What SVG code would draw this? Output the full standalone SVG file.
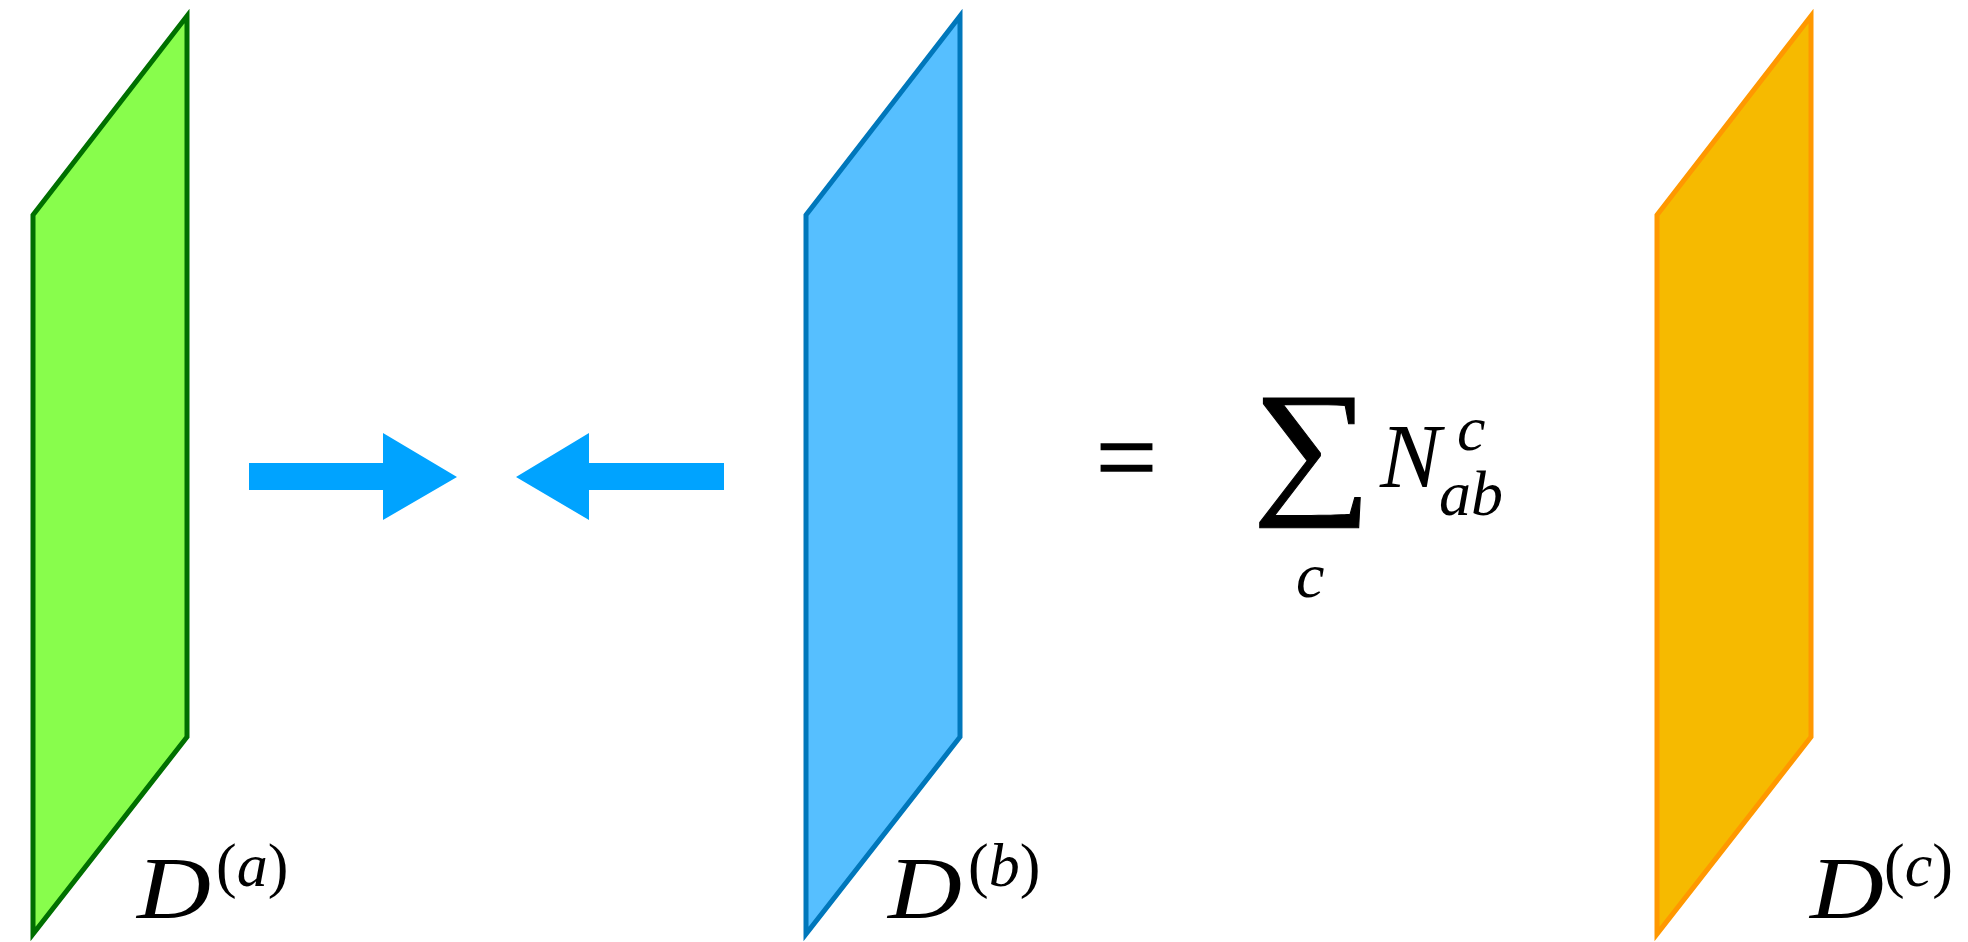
<svg xmlns="http://www.w3.org/2000/svg" width="1968" height="942" viewBox="0 0 1968 942">
<style>
.panel{stroke-width:5;stroke-linejoin:miter}
.m{font-family:"Liberation Serif","Times New Roman",serif;fill:#000}
.i{font-style:italic}
.arrow{fill:#00A3FF}
</style>
<rect width="1968" height="942" fill="#fff"/>
<g id="panel-a">
<polygon class="panel" points="33,215 187,16 187,737 33,934" fill="#88FD4C" stroke="#007000"/>
<text class="m i" transform="translate(137,918) scale(1.15,1)" font-size="89">D</text>
<text class="m" x="216" y="886" font-size="62">(<tspan class="i">a</tspan>)</text>
</g>
<g id="panel-b">
<polygon class="panel" points="806,215 960,16 960,737 806,934" fill="#56BFFF" stroke="#0077BB"/>
<text class="m i" transform="translate(888,918) scale(1.15,1)" font-size="89">D</text>
<text class="m" x="968" y="886" font-size="62">(<tspan class="i">b</tspan>)</text>
</g>
<g id="panel-c">
<polygon class="panel" points="1657,215 1811,16 1811,737 1657,934" fill="#F6BA00" stroke="#FF9800"/>
<text class="m i" transform="translate(1810,918) scale(1.15,1)" font-size="89">D</text>
<text class="m" x="1884" y="886" font-size="62">(<tspan class="i">c</tspan>)</text>
</g>
<g id="connectors">
<polygon class="arrow" points="249,463 383,463 383,433 457,477 383,520 383,490 249,490"/>
<polygon class="arrow" points="724,463 589,463 589,433 516,477 589,520 589,490 724,490"/>
</g>
<g id="equation">
<text class="m" x="1096" y="493" font-size="108" stroke="#000" stroke-width="1.6">=</text>
<text class="m" transform="translate(1252,496) scale(1.12,1)" font-size="150" stroke="#000" stroke-width="1">∑</text>
<text class="m i" x="1380" y="487" font-size="91">N</text>
<text class="m i" x="1457" y="450" font-size="64">c</text>
<text class="m i" x="1439" y="515" font-size="64">ab</text>
<text class="m i" x="1296" y="597" font-size="64">c</text>
</g>
</svg>
